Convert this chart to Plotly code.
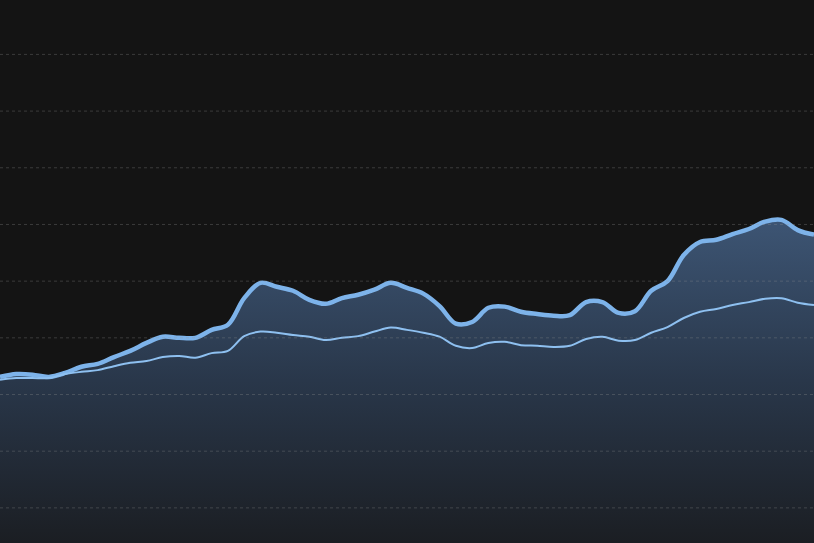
import plotly.graph_objects as go

x_idx = list(range(51))

series_main = [33.1, 33.6, 33.5, 33.1, 33.8, 34.9, 35.4, 36.6, 37.7, 39.1,
               40.2, 40.0, 40.0, 41.4, 42.3, 47.0, 49.7, 49.0, 48.3, 46.7,
               46.0, 47.0, 47.6, 48.5, 49.7, 48.8, 47.8, 45.6, 42.5, 42.8,
               45.3, 45.5, 44.6, 44.2, 43.9, 44.0, 46.3, 46.3, 44.4, 44.7,
               48.3, 50.0, 54.6, 56.9, 57.3, 58.3, 59.2, 60.5, 60.8, 59.0, 58.2]

series_secondary = [32.6, 32.9, 32.9, 32.9, 33.6, 34.0, 34.3, 35.0, 35.6, 35.9,
                    36.6, 36.8, 36.5, 37.3, 37.7, 40.3, 41.1, 40.9, 40.5, 40.2,
                    39.6, 40.0, 40.3, 41.1, 41.8, 41.4, 40.9, 40.2, 38.6, 38.2,
                    39.1, 39.3, 38.7, 38.6, 38.4, 38.6, 39.8, 40.2, 39.5, 39.6,
                    40.9, 41.9, 43.5, 44.6, 45.1, 45.8, 46.3, 46.9, 47.0, 46.2, 45.8]

grid_values = [10, 20, 30, 40, 50, 60, 70, 80, 90]

fig = go.Figure()

fig.add_trace(go.Scatter(
    x=x_idx, y=series_main,
    mode="lines",
    line=dict(color="#7db3ea", width=4.5, shape="spline", smoothing=1),
    fill="tozeroy",
    fillgradient=dict(
        type="vertical",
        start=3.8, stop=61,
        colorscale=[[0, "#1b1e23"], [0.5, "#29374a"], [1, "#3d5574"]],
    ),
    hoverinfo="skip",
))

fig.add_trace(go.Scatter(
    x=x_idx, y=series_secondary,
    mode="lines",
    line=dict(color="#8ec0f0", width=2, shape="spline", smoothing=1),
    hoverinfo="skip",
))

for gv in grid_values:
    fig.add_shape(type="line", xref="paper", x0=0, x1=1, yref="y", y0=gv, y1=gv,
                  line=dict(color="rgba(150,150,150,0.3)", width=1, dash="3px,3px"),
                  layer="above")

fig.update_layout(
    width=814, height=543,
    margin=dict(l=0, r=0, t=0, b=0),
    paper_bgcolor="#141414",
    plot_bgcolor="#141414",
    showlegend=False,
    hovermode=False,
    xaxis=dict(range=[0, 50], showgrid=False, zeroline=False,
               showticklabels=False, ticks="", showline=False),
    yaxis=dict(range=[3.8, 99.6], showgrid=False, zeroline=False,
               showticklabels=False, ticks="", showline=False),
)

fig.write_html("out.html",
               config={"displayModeBar": False, "staticPlot": True},
               post_script="document.body.style.margin='0';document.body.style.background='#141414';")
